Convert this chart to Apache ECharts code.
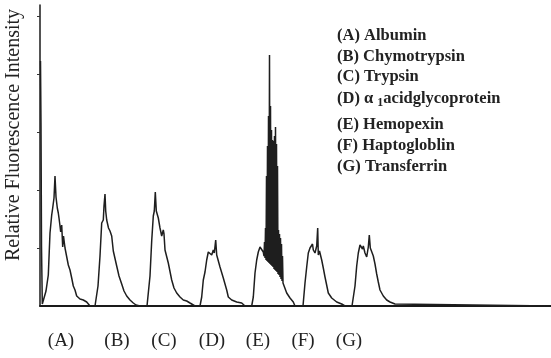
<!DOCTYPE html>
<html><head><meta charset="utf-8">
<script src="https://cdn.jsdelivr.net/npm/echarts@6/dist/echarts.min.js"></script>
<style>html,body{margin:0;padding:0;background:#fff}#c{width:551px;height:358px}</style>
</head><body><div id="c"></div>
<script>
// x: elution position (trace units), value: relative fluorescence intensity
const solventFront = [[40.5,245],[41,180],[41.5,60],[42.3,2],[43,0]];
const peakA = [[44,3],[46,15],[48.3,31],[50,73],[51.7,91],[52.7,98],[54,108],[55,130],[56,109],[57.3,98],[58.3,93],[59,88],[60,80],[60.7,74],[61.7,81],[62.7,59],[63.5,70],[64,71],[65,58],[66.7,56],[68.3,41],[70,36],[71.7,28],[73.3,20],[75,16],[76.7,10],[78.3,8],[80,7],[83.3,6],[86.7,4],[90,0],[95,0]];
const peakB = [[96.7,2],[98,20],[100,50],[101.7,83],[102.3,85],[103.3,86],[104,100],[105,112],[105.7,95],[106.7,86],[107.7,88],[108.5,78],[110,75],[111.7,70],[113.3,55],[116.7,40],[119,30],[121.7,22],[124,15],[126.7,10],[130,6],[133.3,3],[136,1],[140,0],[147,0]];
const peakC = [[148.3,2],[150,30],[151.7,65],[153.3,90],[154.3,95],[155.3,114],[156.3,95],[158.3,88],[160,78],[161.7,70],[163.3,76],[164,72],[165,56],[168.3,43],[171.7,26],[174,18],[176.7,13],[180,9],[183.3,6],[186.7,5],[190,3],[195,0],[200,0]];
const peakD = [[201.7,9],[203.3,26],[205,34],[206.7,46],[208.3,54],[210,55],[211.7,51],[213.3,56],[214.3,53],[215.7,66],[216.7,51],[217.7,49],[220,39],[223.3,28],[226.7,16],[228.3,9],[231.7,6],[236.7,4],[241.7,3],[245,0],[251.7,0]];
const peakE = [[253.3,9],[255,33],[256.7,46],[258.3,54],[260,59],[261.7,58],[263.3,54],
  [264,50],[264.5,64],[265,48],[265.5,78],[266,46],[266.5,130],[267,45],[267.5,160],[268,44],[268.5,190],[269,43],[269.5,251],[270,42],[270.5,200],[271,41],[271.5,176],[272,40],[272.5,166],[273,39],[273.5,165],[274,37],[274.5,170],[275,36],[275.5,179],[276,35],[276.5,162],[277,34],[277.5,140],[278,32],[278.5,76],[279,31],[279.5,72],[280,29],[280.5,68],[281,27],[281.5,62],[282,25],[282.5,50],[283,23],
  [286.7,13],[290,8],[293.3,4],[295,0],[303,0]];
const peakF = [[303.3,0],[305,23],[306.7,39],[308.3,53],[310,58],[311.7,56],[312.5,62],[313.3,56],[315,53],[316.7,60],[317.7,78],[318.3,51],[319.5,55],[321.7,46],[323.3,38],[325,29],[328.3,13],[331.7,8],[336.7,4],[341.7,2],[345,0],[352,0]];
const peakG = [[353.3,1],[355,20],[356.7,40],[358.3,53],[360,61],[361.7,63],[362.5,57],[363.3,60],[365,53],[366.7,49],[368.3,59],[369.3,71],[370.3,58],[371.7,56],[373.3,50],[375,42],[376.7,32],[378.3,24],[380,16],[383.3,10],[386.7,6],[390,4],[395,2],[397,0],[551,0]];

const proteinLegend = ['(A) Albumin','(B) Chymotrypsin','(C) Trypsin','(D) α {sub|1}acidglycoprotein','(E) Hemopexin','(F) Haptogloblin','(G) Transferrin'];
const peakLabels = ['(A)','(B)','(C)','(D)','(E)','(F)','(G)'];
const peakLabelX = [61,117,164,212,258,303,349];
const yTicks = [58,116,174,232,290];
const yTitle = 'Relative Fluorescence Intensity';

const trace = [].concat(solventFront, peakA, peakB, peakC, peakD, peakE, peakF, peakG);

const chart = echarts.init(document.getElementById('c'), null, {renderer:'canvas'});
const legendY = [36,57,77,99,125,146,167];
const serif = '"Liberation Serif","DejaVu Serif",serif';

const graphics = [{
  type:'text', x:14, y:135, rotation:Math.PI/2,
  style:{text:yTitle, font:'20px '+serif, fill:'#222', align:'center', verticalAlign:'middle'}
}];
proteinLegend.forEach((t,i)=>{
  graphics.push({type:'text', x:337, y:legendY[i],
    style:{text:t, fontFamily:serif, fontSize:16.5, fontWeight:'bold', fill:'#222', verticalAlign:'middle',
      rich:{sub:{fontFamily:serif, fontSize:12, fontWeight:'bold', fill:'#222', verticalAlign:'bottom', padding:[8,0,0,0]}}}});
});

chart.setOption({
  animation:false,
  backgroundColor:'#fff',
  grid:{left:40, right:0, top:5, bottom:52},
  xAxis:{type:'value', min:40, max:551,
    axisLine:{show:true, onZero:false, lineStyle:{color:'#1a1a1a', width:2}},
    axisTick:{show:false}, splitLine:{show:false},
    axisLabel:{customValues:peakLabelX, formatter:(v)=>peakLabels[peakLabelX.indexOf(v)]||'',
      margin:26, fontFamily:serif, fontSize:19, color:'#222'}
  },
  yAxis:{type:'value', min:0, max:301,
    axisLine:{show:true, lineStyle:{color:'#1a1a1a', width:1.5}},
    axisTick:{show:true, length:3, customValues:yTicks, lineStyle:{color:'#333'}},
    axisLabel:{show:false}, splitLine:{show:false}
  },
  series:[{type:'line', data:trace, showSymbol:false, symbol:'none',
    lineStyle:{color:'#1e1e1e', width:1.5}, z:3}],
  graphic:graphics
});
</script>
</body></html>
